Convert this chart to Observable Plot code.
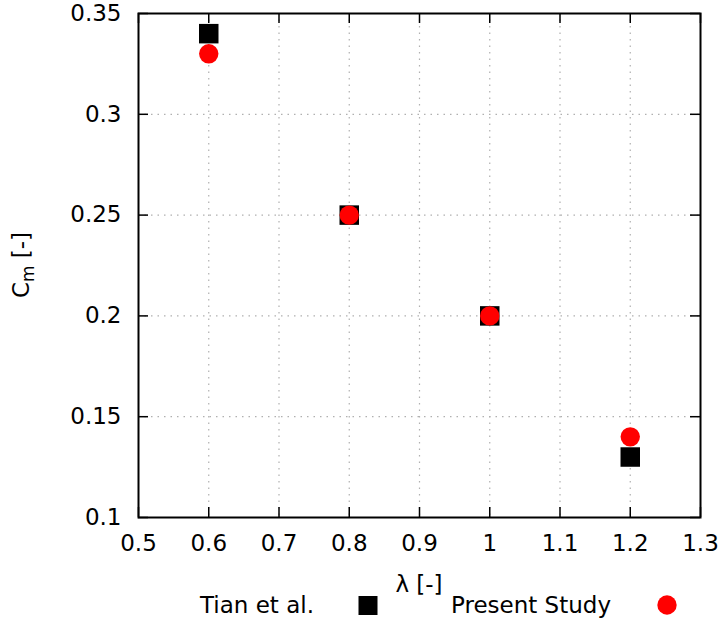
<!DOCTYPE html>
<html>
<head>
<meta charset="utf-8">
<script src="https://cdn.jsdelivr.net/npm/d3@7"></script>
<script src="https://cdn.jsdelivr.net/npm/@observablehq/plot@0.6"></script>
<style>
  html, body { margin: 0; padding: 0; background: white; }
</style>
</head>
<body>
<div id="chart"></div>
<script>
const lambda = [0.6, 0.8, 1.0, 1.2];
const cmTian = [0.34, 0.25, 0.20, 0.13];
const cmPresent = [0.33, 0.25, 0.20, 0.14];
const xTicks = [0.5, 0.6, 0.7, 0.8, 0.9, 1.0, 1.1, 1.2, 1.3];
const xTickLabels = ["0.5", "0.6", "0.7", "0.8", "0.9", "1", "1.1", "1.2", "1.3"];
const yTicks = [0.10, 0.15, 0.20, 0.25, 0.30, 0.35];
const yTickLabels = ["0.1", "0.15", "0.2", "0.25", "0.3", "0.35"];
const seriesNames = ["Tian et al.", "Present Study"];
const xLabel = "λ [-]";

const tian = lambda.map((x, i) => ({x, y: cmTian[i]}));
const present = lambda.map((x, i) => ({x, y: cmPresent[i]}));

const W = 721, H = 622, mL = 138, mR = 21, mT = 13, mB = 105;
const innerW = W - mL - mR, innerH = H - mT - mB;
const tickLen = 10;
const fs = 23;
const gridStyle = {stroke: "#b0b0b0", strokeOpacity: 1, strokeWidth: 1.2, strokeDasharray: "1.5,5"};

const chart = Plot.plot({
  width: W, height: H,
  marginLeft: mL, marginRight: mR, marginTop: mT, marginBottom: mB,
  style: {fontFamily: "DejaVu Sans", fontSize: fs + "px", background: "white", color: "black"},
  x: {domain: [0.5, 1.3]},
  y: {domain: [0.1, 0.35]},
  marks: [
    Plot.gridX(xTicks.slice(1, -1), gridStyle),
    Plot.gridY(yTicks.slice(1, -1), gridStyle),
    Plot.ruleX(xTicks, {x: d => d, insetTop: innerH - tickLen, stroke: "black", strokeWidth: 1.5}),
    Plot.ruleX(xTicks, {x: d => d, insetBottom: innerH - tickLen, stroke: "black", strokeWidth: 1.5}),
    Plot.ruleY(yTicks, {y: d => d, insetRight: innerW - tickLen, stroke: "black", strokeWidth: 1.5}),
    Plot.ruleY(yTicks, {y: d => d, insetLeft: innerW - tickLen, stroke: "black", strokeWidth: 1.5}),
    Plot.axisX(xTicks, {tickSize: 0, tickPadding: 17, label: null, fill: "black",
      tickFormat: d => xTickLabels[xTicks.indexOf(d)]}),
    Plot.axisY(yTicks, {tickSize: 0, tickPadding: 17, label: null, fill: "black",
      tickFormat: d => yTickLabels[yTicks.indexOf(d)]}),
    Plot.dot(tian, {x: "x", y: "y", symbol: "square", r: 11, fill: "black"}),
    Plot.dot(present, {x: "x", y: "y", symbol: "circle", r: 9.7, fill: "red"}),
    Plot.frame({stroke: "black", strokeWidth: 2})
  ]
});

document.getElementById("chart").appendChild(chart);

const svg = d3.select(chart);
const font = "DejaVu Sans";

// y-axis label with subscript
const yl = svg.append("text")
  .attr("transform", `translate(29, ${mT + innerH / 2}) rotate(-90)`)
  .attr("text-anchor", "middle")
  .attr("font-family", font).attr("font-size", fs).attr("fill", "black");
yl.append("tspan").text("C");
yl.append("tspan").attr("font-size", 17).attr("dy", 5).text("m");
yl.append("tspan").attr("dy", -5).text(" [-]");

// x-axis label
svg.append("text")
  .attr("x", mL + innerW / 2).attr("y", 592)
  .attr("text-anchor", "middle")
  .attr("font-family", font).attr("font-size", fs).attr("fill", "black")
  .text(xLabel);

// legend
const legY = 613;
svg.append("text").attr("x", 200).attr("y", legY)
  .attr("text-anchor", "start")
  .attr("font-family", font).attr("font-size", fs).attr("fill", "black")
  .text(seriesNames[0]);
svg.append("rect").attr("x", 358.5).attr("y", 596).attr("width", 19).attr("height", 19).attr("fill", "black");
svg.append("text").attr("x", 451).attr("y", legY)
  .attr("text-anchor", "start")
  .attr("font-family", font).attr("font-size", fs).attr("fill", "black")
  .text(seriesNames[1]);
svg.append("circle").attr("cx", 667).attr("cy", 605).attr("r", 9.7).attr("fill", "red");
</script>
</body>
</html>
